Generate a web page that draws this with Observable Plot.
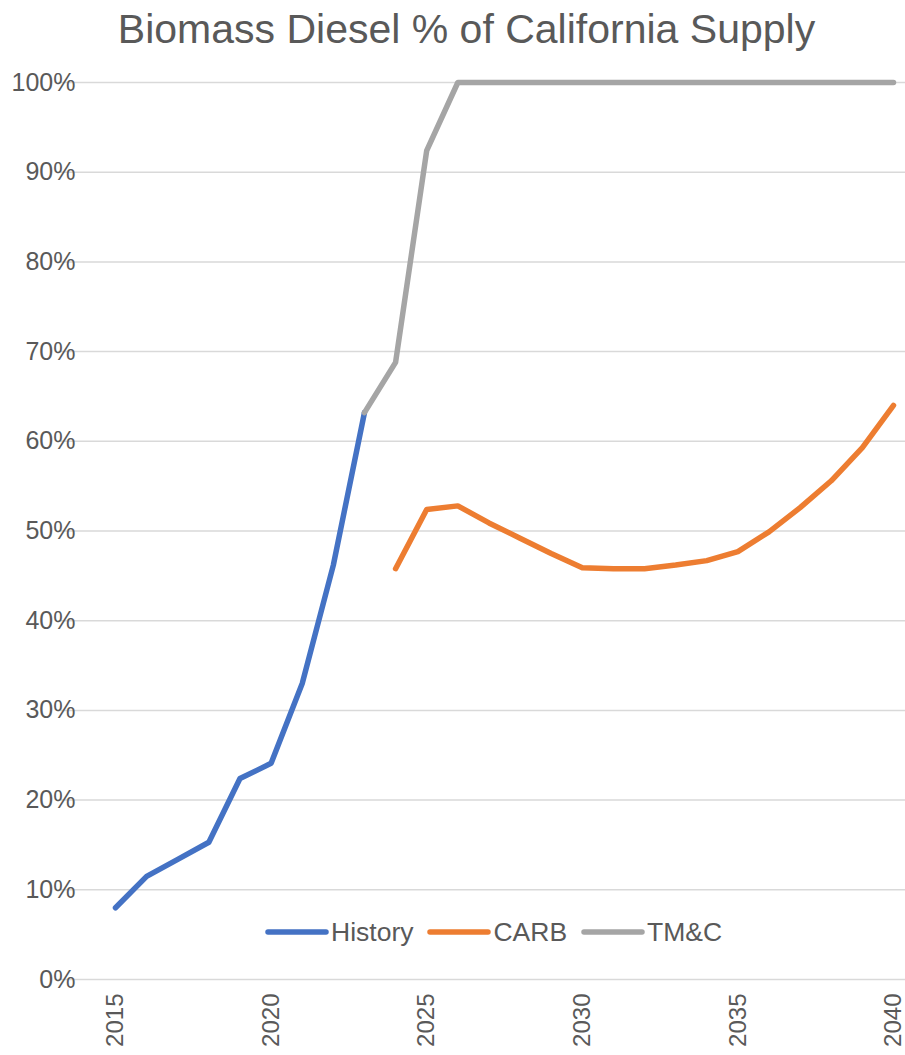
<!DOCTYPE html>
<html>
<head>
<meta charset="utf-8">
<script src="https://cdn.jsdelivr.net/npm/d3@7"></script>
<script src="https://cdn.jsdelivr.net/npm/@observablehq/plot@0.6"></script>
<style>
  body { margin: 0; background: #fff; font-family: "Liberation Sans", Arial, sans-serif; }
  #wrap { position: relative; width: 905px; height: 1055px; overflow: hidden; }
  #title { position: absolute; left: 0; top: 0; width: 905px; padding-left: 28px; box-sizing: border-box;
           text-align: center; font-size: 41px; line-height: 58px; color: #595959; }
  #legend { position: absolute; left: 265px; top: 914px; height: 36px; display: flex; align-items: center;
            font-size: 26.5px; color: #595959; }
  .item { display: flex; align-items: center; margin-right: 14px; }
  .item svg { display: block; margin-right: 2px; }
  #chart { position: absolute; left: 0; top: 0; }
</style>
</head>
<body>
<div id="wrap">
  <div id="chart"></div>
  <div id="title">Biomass Diesel % of California Supply</div>
  <div id="legend"></div>
</div>
<script>
// ---- data ----
const historyYears = [2015, 2016, 2017, 2018, 2019, 2020, 2021, 2022, 2023];
const historyValues = [0.080, 0.115, 0.134, 0.153, 0.224, 0.241, 0.330, 0.462, 0.632];

const carbYears = [2024, 2025, 2026, 2027, 2028, 2029, 2030, 2031, 2032, 2033, 2034, 2035, 2036, 2037, 2038, 2039, 2040];
const carbValues = [0.458, 0.524, 0.528, 0.509, 0.492, 0.475, 0.459, 0.458, 0.458, 0.462, 0.467, 0.477, 0.499, 0.526, 0.556, 0.593, 0.640];

const tmcYears = [2023, 2024, 2025, 2026, 2027, 2028, 2029, 2030, 2031, 2032, 2033, 2034, 2035, 2036, 2037, 2038, 2039, 2040];
const tmcValues = [0.632, 0.688, 0.924, 1.0, 1.0, 1.0, 1.0, 1.0, 1.0, 1.0, 1.0, 1.0, 1.0, 1.0, 1.0, 1.0, 1.0, 1.0];

const seriesNames = ["History", "CARB", "TM&C"];
const seriesColors = ["#4472C4", "#ED7D31", "#A5A5A5"];

const yTicks = [0, 0.1, 0.2, 0.3, 0.4, 0.5, 0.6, 0.7, 0.8, 0.9, 1.0];
const xTicks = [2015, 2020, 2025, 2030, 2035, 2040];

// ---- build table ----
const rows = [];
historyYears.forEach((y, i) => rows.push({series: "History", year: y, value: historyValues[i]}));
carbYears.forEach((y, i) => rows.push({series: "CARB", year: y, value: carbValues[i]}));
tmcYears.forEach((y, i) => rows.push({series: "TM&C", year: y, value: tmcValues[i]}));

const chart = Plot.plot({
  width: 905,
  height: 1055,
  marginTop: 82,
  marginBottom: 76,
  marginLeft: 115,
  marginRight: 12,
  style: { fontFamily: "'Liberation Sans', Arial, sans-serif", background: "#fff" },
  x: { domain: [2015, 2040] },
  y: { domain: [0, 1] },
  color: { domain: seriesNames, range: seriesColors },
  marks: [
    Plot.ruleY(yTicks, { y: d => d, stroke: "#d9d9d9", strokeWidth: 1.5, insetLeft: -57, insetRight: -12 }),
    Plot.axisY(yTicks, { tickSize: 0, tickPadding: 40, tickFormat: d3.format(".0%"), fontSize: 25, color: "#595959", label: null }),
    Plot.axisX(xTicks, { tickSize: 0, tickPadding: 14, tickRotate: -90, tickFormat: d3.format("d"), fontSize: 24, color: "#595959", label: null }),
    Plot.line(rows, { x: "year", y: "value", z: "series", stroke: "series", strokeWidth: 5.5, strokeLinecap: "round", strokeLinejoin: "round" })
  ]
});
document.getElementById("chart").appendChild(chart);

// ---- legend ----
const legend = document.getElementById("legend");
seriesNames.forEach((name, i) => {
  const item = document.createElement("div");
  item.className = "item";
  item.innerHTML = `<svg width="64" height="12"><line x1="3" y1="6" x2="61" y2="6" stroke="${seriesColors[i]}" stroke-width="5.5" stroke-linecap="round"/></svg><span></span>`;
  item.querySelector("span").textContent = name;
  legend.appendChild(item);
});
</script>
</body>
</html>
